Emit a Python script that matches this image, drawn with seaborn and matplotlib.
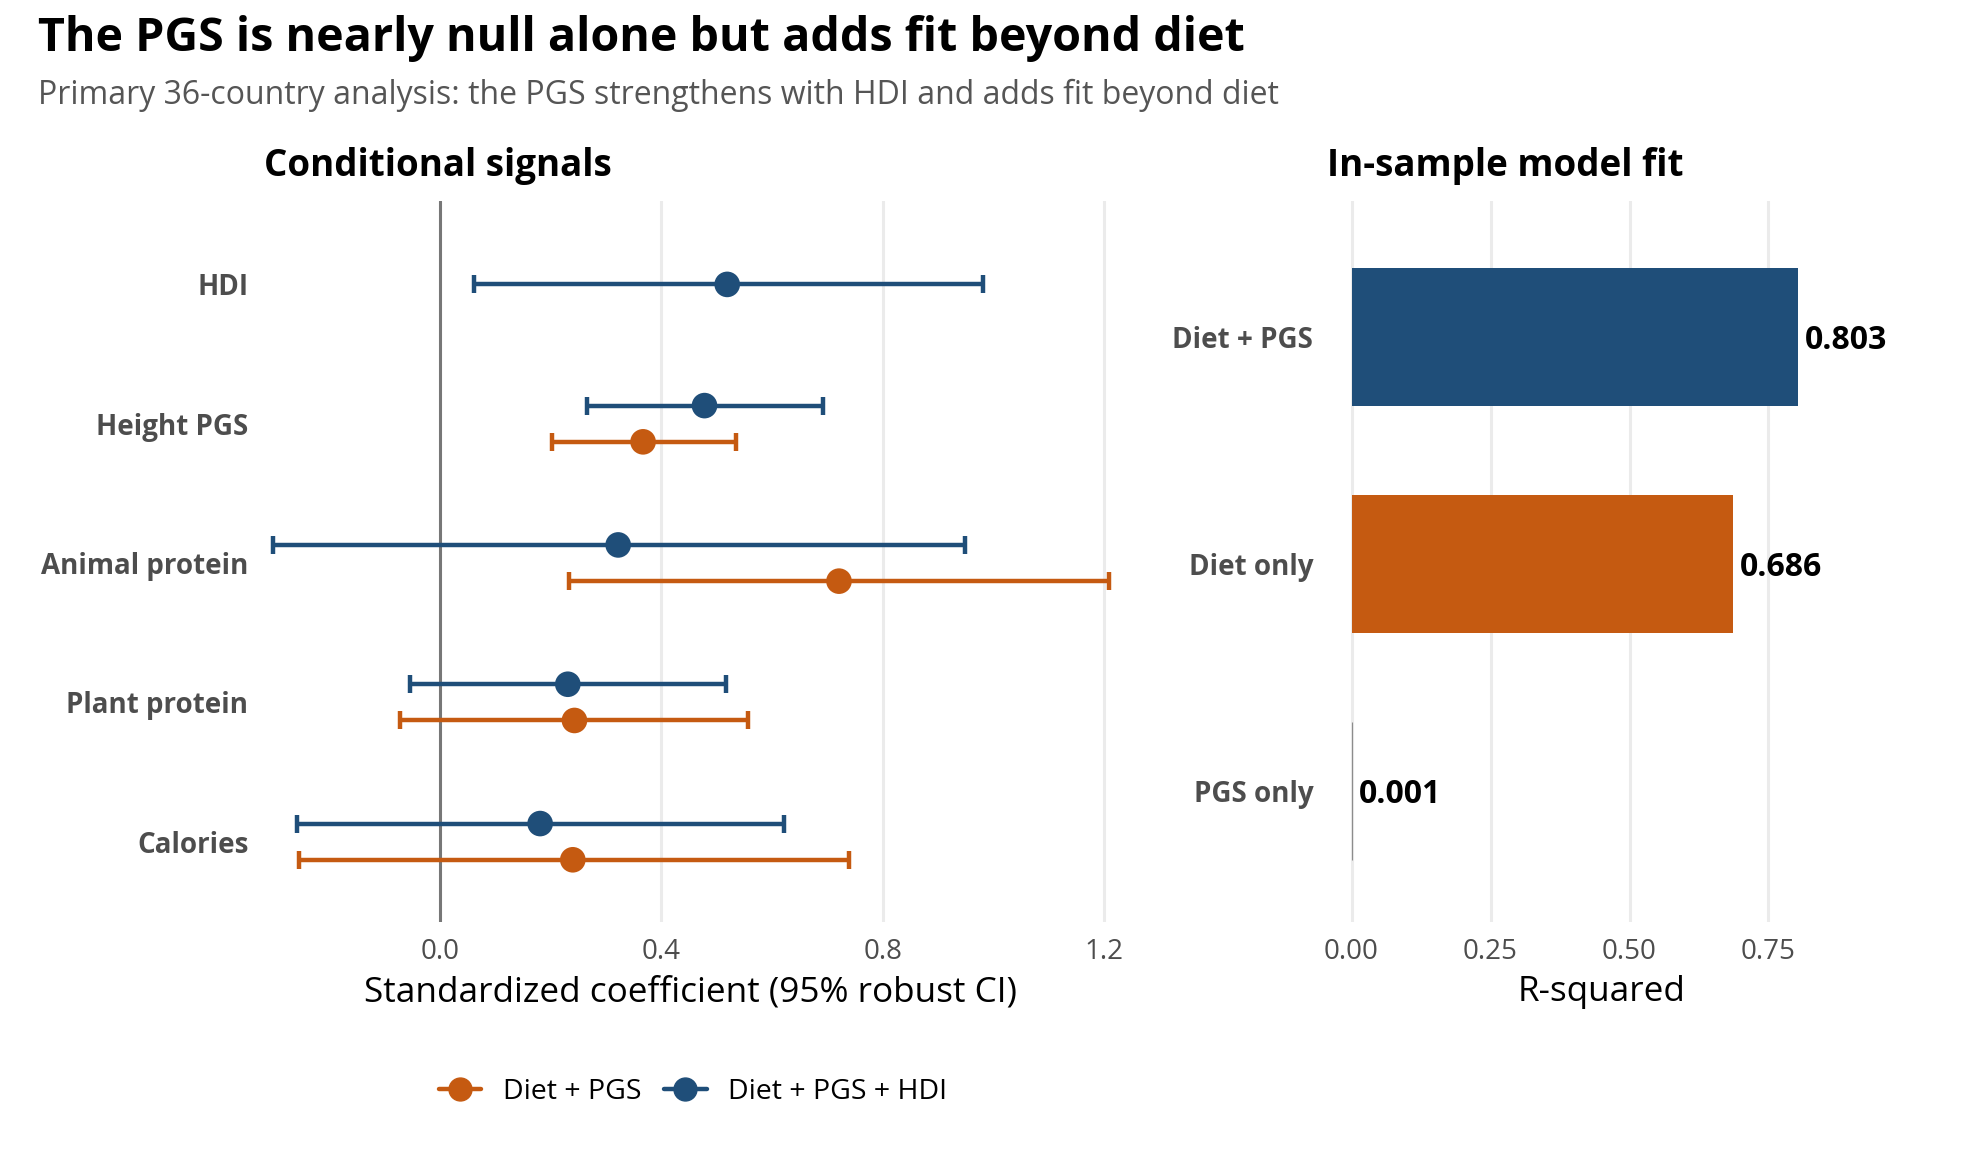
import matplotlib
matplotlib.use("Agg")
import matplotlib.pyplot as plt
from matplotlib.lines import Line2D
import seaborn as sns
import pandas as pd
import numpy as np

# ---------------- data ----------------
terms = ["HDI", "Height PGS", "Animal protein", "Plant protein", "Calories"]

# Diet + PGS + HDI model
hdi_est = [0.519, 0.478, 0.322, 0.231, 0.181]
hdi_lo = [0.061, 0.265, -0.302, -0.054, -0.259]
hdi_hi = [0.982, 0.692, 0.948, 0.517, 0.621]

# Diet + PGS model (no HDI term)
dp_terms = ["Height PGS", "Animal protein", "Plant protein", "Calories"]
dp_est = [0.367, 0.721, 0.243, 0.240]
dp_lo = [0.202, 0.234, -0.073, -0.254]
dp_hi = [0.535, 1.209, 0.556, 0.739]

models = ["Diet + PGS", "Diet only", "PGS only"]
r2 = [0.803, 0.686, 0.001]

x_ticks = [0.0, 0.4, 0.8, 1.2]
r2_ticks = [0.00, 0.25, 0.50, 0.75]

# ---------------- style ----------------
ORANGE = "#C55A11"
BLUE = "#1F4E79"
GREY = "#8C8C8C"
sns.set_theme(style="white")
plt.rcParams["font.family"] = ["Open Sans", "DejaVu Sans"]

W, H = 1567.0, 937.0  # reference layout units
fig = plt.figure(figsize=(19.67, 11.76), dpi=100)

def fx(x):
    return x / W

def fy(y):
    return 1 - y / H

# ---------- left panel ----------
axL = fig.add_axes([fx(205), fy(735), fx(895 - 205), (735 - 160) / H])
pos = {t: i for i, t in enumerate(terms)}
dodge = 0.13

hdi_df = pd.DataFrame({"term": terms, "est": hdi_est, "lo": hdi_lo, "hi": hdi_hi,
                       "model": "Diet + PGS + HDI"})
dp_df = pd.DataFrame({"term": dp_terms, "est": dp_est, "lo": dp_lo, "hi": dp_hi,
                      "model": "Diet + PGS"})
hdi_df["y"] = [pos[t] - (dodge if t in dp_terms else 0) for t in hdi_df.term]
dp_df["y"] = [pos[t] + dodge for t in dp_df.term]

for d in (x_ticks):
    axL.axvline(d, color="#EBEBEB", lw=2.2, zorder=0)
axL.axvline(0, color="#777777", lw=2.2, zorder=1)

for df, col in ((dp_df, ORANGE), (hdi_df, BLUE)):
    axL.errorbar(df.est, df.y, xerr=[df.est - df.lo, df.hi - df.est], fmt="none",
                 ecolor=col, elinewidth=3.2, capsize=6.5, capthick=3.2, zorder=2)
    sns.scatterplot(data=df, x="est", y="y", color=col, s=340, edgecolor="none",
                    ax=axL, zorder=3, legend=False)

axL.set_ylim(4.58, -0.6)
axL.set_xlim(-0.33, 1.235)
axL.set_yticks(range(len(terms)))
axL.set_yticklabels(terms, fontsize=20, fontweight="bold", color="#4D4D4D")
axL.set_xticks(x_ticks)
axL.set_xticklabels([f"{v:.1f}" for v in x_ticks], fontsize=20, color="#4D4D4D")
axL.tick_params(axis="x", length=0, pad=11)
axL.tick_params(axis="y", length=0, pad=6.5)
axL.set_xlabel("Standardized coefficient (95% robust CI)", fontsize=25.3, color="black", labelpad=7)
axL.set_ylabel("")
for s in axL.spines.values():
    s.set_visible(False)

# ---------- right panel ----------
axR = fig.add_axes([fx(1059), fy(735), fx(1493 - 1059), (735 - 160) / H])
for d in r2_ticks:
    axR.axvline(d, color="#EBEBEB", lw=2.2, zorder=0)
bar_df = pd.DataFrame({"model": models, "r2": r2})
sns.barplot(data=bar_df, x="r2", y="model", hue="model", saturation=1,
            palette=[BLUE, ORANGE, GREY], width=0.61, legend=False, ax=axR, zorder=2,
            linewidth=0)
axR.patches[2].set_edgecolor(GREY)
axR.patches[2].set_linewidth(0.8)
for i, v in enumerate(r2):
    axR.text(v + 0.012, i, f"{v:.3f}", va="center_baseline", ha="left", fontsize=23,
             fontweight="bold", color="black")
axR.set_ylim(2.58, -0.6)
axR.set_xlim(-0.04, 0.94)
axR.set_xticks(r2_ticks)
axR.set_xticklabels([f"{v:.2f}" for v in r2_ticks], fontsize=20, color="#4D4D4D")
axR.set_yticks(range(len(models)))
axR.set_yticklabels(models, fontsize=20, fontweight="bold", color="#4D4D4D")
axR.tick_params(axis="x", length=0, pad=11)
axR.tick_params(axis="y", length=0, pad=11.5)
axR.set_xlabel("R-squared", fontsize=25.3, color="black", labelpad=7)
axR.set_ylabel("")
for s in axR.spines.values():
    s.set_visible(False)

# ---------- titles ----------
fig.text(fx(30), fy(31), "The PGS is nearly null alone but adds fit beyond diet",
         fontsize=33.6, fontweight="bold", va="center", ha="left", color="black")
fig.text(fx(30), fy(76), "Primary 36-country analysis: the PGS strengthens with HDI and adds fit beyond diet",
         fontsize=23, color="#555555", va="center", ha="left")
fig.text(fx(210), fy(132), "Conditional signals", fontsize=26.5, fontweight="bold",
         va="center", ha="left", color="black")
fig.text(fx(1057), fy(132), "In-sample model fit", fontsize=26.5, fontweight="bold",
         va="center", ha="left", color="black")

# ---------- legend ----------
handles = [Line2D([0], [0], color=ORANGE, lw=3.2, marker="o", markersize=16.5),
           Line2D([0], [0], color=BLUE, lw=3.2, marker="o", markersize=16.5)]
leg = fig.legend(handles, ["Diet + PGS", "Diet + PGS + HDI"], loc="center",
                 bbox_to_anchor=(fx(552), fy(870)), ncol=2, frameon=False, fontsize=20.5,
                 handlelength=1.5, columnspacing=0.8, handletextpad=0.75)
for t in leg.get_texts():
    t.set_color("black")

fig.savefig("out.png", dpi=100)
